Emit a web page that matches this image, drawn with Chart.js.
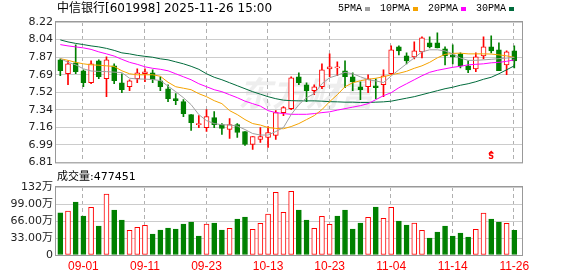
<!DOCTYPE html>
<html>
<head>
<meta charset="utf-8">
<script src="https://cdn.jsdelivr.net/npm/chart.js@4.4.1/dist/chart.umd.min.js"></script>
<style>
html,body{margin:0;padding:0;background:#fff;}
#wrap{position:relative;width:578px;height:276px;overflow:hidden;background:#fff;}
#wrap canvas{position:absolute;left:0;}
#c1{top:0;}
#c2{top:168px;}
</style>
</head>
<body>
<div id="wrap">
<canvas id="c1" width="578" height="172"></canvas>
<canvas id="c2" width="578" height="108"></canvas>
</div>
<script>
// ---------------- DATA ----------------
const stockTitle = '中信银行[601998] 2025-11-26 15:00';
const dates = ['08-27','08-28','08-29','09-01','09-02','09-03','09-04','09-05','09-08','09-09',
  '09-10','09-11','09-12','09-15','09-16','09-17','09-18','09-19','09-22','09-23',
  '09-24','09-25','09-26','09-29','09-30','10-09','10-10','10-13','10-14','10-15',
  '10-16','10-17','10-20','10-21','10-22','10-23','10-24','10-27','10-28','10-29',
  '10-30','10-31','11-03','11-04','11-05','11-06','11-07','11-10','11-11','11-12',
  '11-13','11-14','11-17','11-18','11-19','11-20','11-21','11-24','11-25','11-26'];
const shownDateLabels = ['09-01','09-11','09-23','10-13','10-23','11-04','11-14','11-26'];

const opens  = [7.84,7.70,7.81,7.73,7.61,7.83,7.65,7.78,7.61,7.57,
  7.65,7.70,7.71,7.63,7.55,7.45,7.42,7.29,7.19,7.16,
  7.26,7.19,7.14,7.19,7.12,6.99,7.04,7.06,7.08,7.31,
  7.35,7.67,7.59,7.53,7.57,7.75,7.76,7.73,7.67,7.57,
  7.57,7.58,7.59,7.70,7.97,7.88,7.87,7.92,8.01,8.01,
  7.95,7.89,7.90,7.78,7.75,7.88,7.97,7.94,7.79,7.93];
const highs  = [7.85,7.83,7.99,7.74,7.83,7.84,7.87,7.80,7.70,7.64,
  7.75,7.75,7.74,7.67,7.59,7.50,7.44,7.29,7.28,7.34,
  7.32,7.20,7.25,7.20,7.12,7.07,7.16,7.17,7.33,7.37,
  7.67,7.71,7.61,7.59,7.80,7.90,7.82,7.83,7.71,7.62,
  7.69,7.65,7.74,7.98,7.98,7.91,8.02,8.07,8.07,8.11,
  7.97,7.99,7.91,7.83,7.91,8.07,8.08,8.01,7.93,7.98];
const lows   = [7.68,7.59,7.70,7.57,7.60,7.65,7.47,7.60,7.51,7.53,
  7.61,7.62,7.61,7.53,7.42,7.39,7.27,7.13,7.16,7.12,
  7.16,7.09,7.05,7.06,6.98,6.94,7.01,6.96,7.04,7.28,
  7.34,7.59,7.42,7.49,7.55,7.67,7.68,7.56,7.53,7.44,
  7.51,7.45,7.47,7.69,7.89,7.80,7.85,7.86,7.96,7.96,
  7.79,7.80,7.76,7.71,7.72,7.85,7.91,7.73,7.69,7.76];
const closes = [7.73,7.80,7.72,7.61,7.80,7.67,7.84,7.63,7.54,7.63,
  7.71,7.72,7.64,7.57,7.45,7.43,7.30,7.21,7.19,7.27,
  7.19,7.15,7.19,7.11,6.99,7.07,7.07,7.11,7.31,7.36,
  7.66,7.61,7.53,7.57,7.74,7.77,7.76,7.67,7.62,7.54,
  7.65,7.56,7.68,7.94,7.93,7.83,7.93,8.06,7.97,7.96,
  7.88,7.87,7.78,7.74,7.87,7.97,7.93,7.73,7.92,7.83];

// volume in 万 (10k lots)
const volumes = [82.1,85.4,102.9,75.7,92.5,56.3,118.4,87.4,67.9,47.9,
  53.7,57.6,40.8,48.5,52.4,50.5,60.2,64.1,36.9,60.2,
  62.1,48.5,51.8,69.9,73.8,49.9,61.5,79.6,121.7,82.9,
  123.6,87.4,67.9,51.8,75.1,59.5,75.7,87.4,50.5,62.1,
  73.1,93.2,71.2,92.5,66.0,58.2,62.1,47.9,33.0,44.6,
  56.3,36.9,42.7,34.9,49.9,81.5,69.9,64.1,61.5,47.75];
const lastVolume = 477451;

// moving averages
const ma5  = [7.852,7.815,7.79,7.75,7.728,7.724,7.722,7.716,7.712,7.655,
  7.648,7.646,7.642,7.632,7.576,7.52,7.46,7.39,7.29,7.23,
  7.20,7.188,7.186,7.175,7.14,7.10,7.085,7.085,7.12,7.16,
  7.29,7.39,7.46,7.50,7.60,7.66,7.685,7.715,7.70,7.67,
  7.64,7.628,7.612,7.678,7.74,7.80,7.86,7.92,7.941,7.941,
  7.93,7.90,7.858,7.835,7.835,7.84,7.845,7.852,7.858,7.865];
const ma10 = [7.852,7.835,7.815,7.80,7.79,7.786,7.78,7.773,7.73,7.70,
  7.69,7.69,7.69,7.675,7.615,7.57,7.555,7.54,7.50,7.47,
  7.43,7.40,7.33,7.29,7.24,7.20,7.185,7.16,7.152,7.148,
  7.17,7.20,7.24,7.28,7.34,7.42,7.49,7.57,7.61,7.63,
  7.645,7.655,7.67,7.69,7.705,7.725,7.755,7.78,7.815,7.86,
  7.895,7.905,7.907,7.90,7.90,7.90,7.898,7.89,7.88,7.865];
const ma20 = [7.993,7.98,7.97,7.96,7.945,7.92,7.90,7.878,7.845,7.815,
  7.795,7.77,7.755,7.745,7.73,7.70,7.67,7.64,7.60,7.57,
  7.54,7.52,7.49,7.46,7.425,7.40,7.375,7.33,7.31,7.30,
  7.293,7.293,7.293,7.30,7.31,7.318,7.335,7.35,7.365,7.38,
  7.40,7.44,7.48,7.51,7.56,7.60,7.64,7.68,7.715,7.735,
  7.75,7.765,7.775,7.79,7.795,7.80,7.81,7.815,7.825,7.84];
const ma30 = [8.04,8.02,8.005,7.993,7.98,7.97,7.955,7.935,7.91,7.90,
  7.885,7.875,7.866,7.85,7.84,7.82,7.80,7.775,7.745,7.70,
  7.665,7.64,7.61,7.58,7.55,7.52,7.495,7.47,7.45,7.435,
  7.43,7.428,7.428,7.428,7.425,7.42,7.418,7.415,7.415,7.412,
  7.412,7.415,7.418,7.425,7.44,7.455,7.47,7.49,7.51,7.53,
  7.55,7.565,7.585,7.60,7.62,7.645,7.665,7.70,7.74,7.78];

const maNames = ['5PMA','10PMA','20PMA','30PMA'];
const priceTickLabels = ['6.81','6.99','7.16','7.34','7.52','7.69','7.87','8.04','8.22'];
const volTickValues = [0,33,66,99,132];
const volTickLabels = ['0','33.00万','66.00万','99.00万','132万'];
const sellSignals = ['11-21'];

// ---------------- STYLE ----------------
const UP = '#ff0000', DOWN = '#008000';
const maColors = ['#a0a0a0','#f5a300','#ff00ff','#006b3c'];
const GRID = '#cccccc', VGRID = '#b0b0b0', FRAME = '#999999';
const AXIS_FONT = '"DejaVu Sans","Noto Sans CJK SC",sans-serif';
const X_MIN = -0.56, X_MAX = 60.0;

const pMin = parseFloat(priceTickLabels[0]);
const pMax = parseFloat(priceTickLabels[priceTickLabels.length - 1]);
const dateTickIdx = shownDateLabels.map(d => dates.indexOf(d));

const candleUp = closes.map((c, i) => c > opens[i] || (c === opens[i] && (i === 0 || c >= closes[i - 1])));
const bodyUp = closes.map((c, i) => c >= opens[i]);

function frame(chart) {
  const a = chart.chartArea, ctx = chart.ctx;
  ctx.save();
  ctx.strokeStyle = FRAME;
  ctx.lineWidth = 1;
  ctx.strokeRect(a.left - 0.5, a.top - 0.5, a.right - a.left + 1, a.bottom - a.top + 1);
  ctx.restore();
}

// dashed vertical date grid, positioned through the x scale; painted behind existing marks
function dateGrid(chart) {
  const a = chart.chartArea, ctx = chart.ctx, xs = chart.scales.x;
  ctx.save();
  ctx.globalCompositeOperation = 'destination-over';
  ctx.fillStyle = VGRID;
  dateTickIdx.forEach(idx => {
    const px = Math.round(xs.getPixelForValue(idx)) - 1;
    for (let y = Math.round(a.top); y < a.bottom; y += 7) {
      ctx.fillRect(px, y, 1, Math.min(4, a.bottom - y));
    }
  });
  ctx.restore();
}

const pricePlugin = {
  id: 'priceDecor',
  afterDraw(chart) {
    const ctx = chart.ctx;
    dateGrid(chart);
    ctx.save();
    ctx.globalCompositeOperation = 'destination-over';
    ctx.font = 'italic bold 34px "Noto Sans CJK SC"';
    ctx.fillStyle = '#eeeeee';
    ctx.textBaseline = 'middle';
    ctx.fillText('东方财富', 238, 93);
    ctx.restore();
    frame(chart);
    ctx.save();
    ctx.fillStyle = '#000';
    ctx.textBaseline = 'middle';
    ctx.font = '12px "DejaVu Sans","Noto Sans CJK SC"';
    ctx.fillText(stockTitle, 57, 9);
    ctx.font = '10px "Liberation Mono"';
    let x = 338;
    maNames.forEach((n, k) => {
      ctx.fillStyle = '#000';
      ctx.fillText(n, x, 8.5);
      const w = ctx.measureText(n).width;
      ctx.fillStyle = maColors[k];
      ctx.fillRect(Math.round(x + w + 3), 7, 5, 4);
      x = Math.round(x + w + 3) + 5 + 10;
    });
    const xs = chart.scales.x;
    sellSignals.forEach(d => {
      const px = xs.getPixelForValue(dates.indexOf(d));
      const by = chart.chartArea.bottom;
      ctx.fillStyle = UP;
      ctx.beginPath();
      ctx.moveTo(px, by - 12);
      ctx.lineTo(px - 3, by - 9);
      ctx.lineTo(px + 3, by - 9);
      ctx.closePath();
      ctx.fill();
      ctx.font = 'bold 8px "DejaVu Sans"';
      ctx.textAlign = 'center';
      ctx.fillText('S', px, by - 5);
    });
    ctx.restore();
  }
};

const volPlugin = {
  id: 'volDecor',
  afterDraw(chart) {
    dateGrid(chart);
    frame(chart);
    const ctx = chart.ctx;
    ctx.save();
    ctx.fillStyle = '#000';
    ctx.textBaseline = 'middle';
    ctx.font = '11px "DejaVu Sans","Noto Sans CJK SC"';
    ctx.fillText('成交量:' + lastVolume, 57, 9.5);
    ctx.restore();
  }
};

const xBase = {
  type: 'linear', min: X_MIN, max: X_MAX, offset: false,
  afterBuildTicks: s => { s.ticks = dateTickIdx.map(v => ({ value: v })); },
  grid: { display: false, drawTicks: false, offset: false },
  border: { display: false }
};

new Chart(document.getElementById('c1'), {
  type: 'bar',
  data: {
    datasets: [
      ...maNames.map((n, k) => ({
        type: 'line', label: n,
        data: [ma5, ma10, ma20, ma30][k].map((v, i) => ({ x: i, y: v })),
        borderColor: maColors[k], borderWidth: 1, pointRadius: 0, tension: 0, order: 0
      })),
      {
        label: 'body',
        data: opens.map((o, i) => ({ x: i, y: [o, closes[i]] })),
        backgroundColor: bodyUp.map(u => u ? '#ffffff' : DOWN),
        borderColor: bodyUp.map(u => u ? UP : DOWN),
        borderWidth: 1, borderSkipped: false, barThickness: 5, minBarLength: 1,
        grouped: false, order: 1
      },
      {
        label: 'wick',
        data: lows.map((l, i) => ({ x: i, y: [l, highs[i]] })),
        backgroundColor: bodyUp.map(u => u ? UP : DOWN),
        borderWidth: 0, barThickness: 1, grouped: false, order: 2
      }
    ]
  },
  options: {
    responsive: false, animation: false, devicePixelRatio: 1,
    layout: { padding: { left: 0, right: 56, top: 22, bottom: 7 } },
    plugins: { legend: { display: false }, tooltip: { enabled: false } },
    scales: {
      x: Object.assign({}, xBase, {
        ticks: { display: false },
        afterFit: s => { s.height = 0; }
      }),
      y: {
        min: pMin, max: pMax,
        afterBuildTicks: s => {
          s.ticks = priceTickLabels.map((_, k) => ({ value: pMin + k * (pMax - pMin) / (priceTickLabels.length - 1) }));
        },
        afterFit: s => { s.width = 56; },
        ticks: { callback: (v, i) => priceTickLabels[i], padding: 3, color: '#222', font: { family: AXIS_FONT, size: 11 }, autoSkip: false },
        grid: { color: GRID, drawTicks: false },
        border: { display: false }
      }
    }
  },
  plugins: [pricePlugin]
});

new Chart(document.getElementById('c2'), {
  type: 'bar',
  data: {
    datasets: [{
      label: 'volume',
      data: volumes.map((v, i) => ({ x: i, y: v })),
      backgroundColor: candleUp.map(u => u ? '#ffffff' : DOWN),
      borderColor: candleUp.map(u => u ? UP : DOWN),
      borderWidth: 1, borderSkipped: false, barThickness: 5, grouped: false
    }]
  },
  options: {
    responsive: false, animation: false, devicePixelRatio: 1,
    layout: { padding: { left: 0, right: 56, top: 19, bottom: 0 } },
    plugins: { legend: { display: false }, tooltip: { enabled: false } },
    scales: {
      x: Object.assign({}, xBase, {
        ticks: { callback: v => dates[v], color: UP, padding: 4, maxRotation: 0, minRotation: 0, autoSkip: false, font: { family: '"Liberation Sans"', size: 12 } },
        afterFit: s => { s.height = 21; }
      }),
      y: {
        min: volTickValues[0], max: volTickValues[volTickValues.length - 1],
        afterBuildTicks: s => { s.ticks = volTickValues.map(v => ({ value: v })); },
        afterFit: s => { s.width = 56; },
        ticks: { callback: (v, i) => volTickLabels[i], padding: 3, color: '#222', font: { family: AXIS_FONT, size: 11 }, autoSkip: false },
        grid: { color: GRID, drawTicks: false },
        border: { display: false }
      }
    }
  },
  plugins: [volPlugin]
});
</script>
</body>
</html>
